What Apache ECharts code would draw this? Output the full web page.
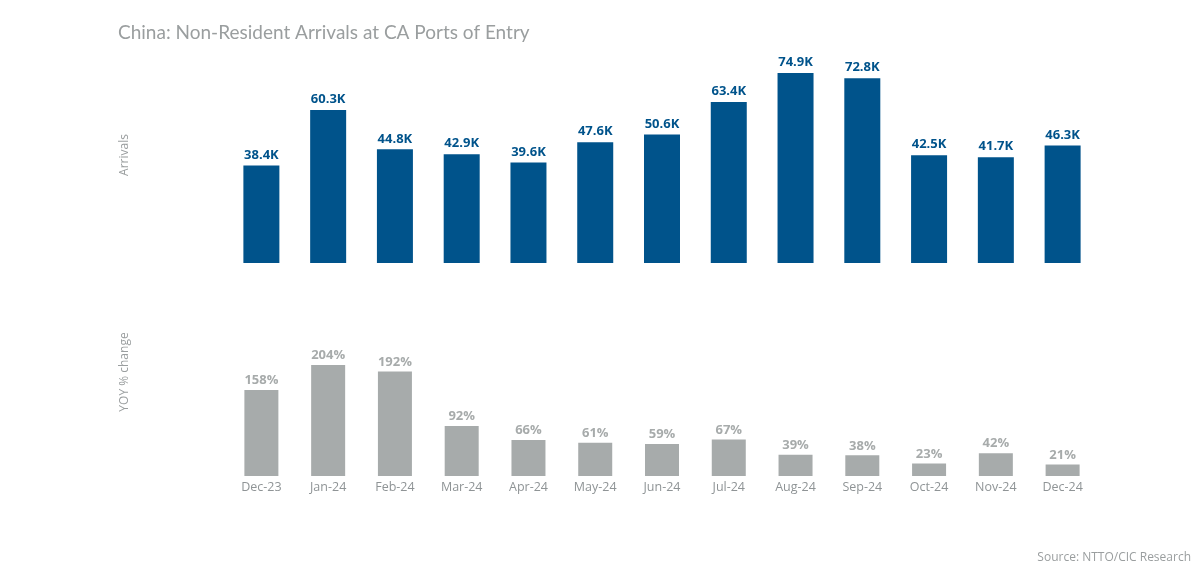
<!DOCTYPE html>
<html><head><meta charset="utf-8">
<script src="https://cdn.jsdelivr.net/npm/echarts@6/dist/echarts.min.js"></script>
<style>html,body{margin:0;padding:0;background:#fff}#c{width:1200px;height:575px}</style>
</head><body><div id="c"></div>
<script>
const categories=["Dec-23","Jan-24","Feb-24","Mar-24","Apr-24","May-24","Jun-24","Jul-24","Aug-24","Sep-24","Oct-24","Nov-24","Dec-24"];
const arrivals=[38.4,60.3,44.8,42.9,39.6,47.6,50.6,63.4,74.9,72.8,42.5,41.7,46.3];
const yoy=[158,204,192,92,66,61,59,67,39,38,23,42,21];
const FONT='"Open Sans","Noto Sans",sans-serif';
const chart=echarts.init(document.getElementById('c'),null,{renderer:'canvas'});
chart.setOption({
 animation:false,
 backgroundColor:'#fff',
 title:[{text:'China: Non-Resident Arrivals at CA Ports of Entry',left:113,top:18,textStyle:{color:'#9a9e9f',fontSize:19,fontWeight:'normal',fontFamily:'Lato'}},
  {text:'Source: NTTO/CIC Research',right:4,top:547,textStyle:{color:'#9a9e9f',fontSize:12,fontWeight:'normal',fontFamily:FONT}}],
 grid:[{left:228,width:868,top:60,height:203},{left:228,width:868,top:340,height:136}],
 xAxis:[{type:'category',gridIndex:0,data:categories,axisLine:{show:false},axisTick:{show:false},axisLabel:{show:false}},
  {type:'category',gridIndex:1,data:categories,axisLine:{show:false},axisTick:{show:false},axisLabel:{color:'#8f9496',fontSize:12.5,fontFamily:FONT,margin:5,interval:0}}],
 yAxis:[{type:'value',gridIndex:0,min:0,max:80,show:false,splitLine:{show:false}},
  {type:'value',gridIndex:1,min:0,max:250,show:false,splitLine:{show:false}}],
 graphic:[
  {type:'text',x:125,y:155,rotation:Math.PI/2,style:{text:'Arrivals',fill:'#9a9e9f',font:'12px '+FONT,align:'center',verticalAlign:'middle'}},
  {type:'text',x:125,y:372,rotation:Math.PI/2,style:{text:'YOY % change',fill:'#9a9e9f',font:'12px '+FONT,align:'center',verticalAlign:'middle'}}
 ],
 series:[
  {type:'bar',xAxisIndex:0,yAxisIndex:0,data:arrivals,barWidth:36,itemStyle:{color:'#00538b'},
   label:{show:true,position:'top',distance:4,color:'#00538b',fontSize:13,fontWeight:'bold',fontFamily:FONT,formatter:p=>p.value.toFixed(1)+'K'}},
  {type:'bar',xAxisIndex:1,yAxisIndex:1,data:yoy,barWidth:34,itemStyle:{color:'#a7abab'},
   label:{show:true,position:'top',distance:3,color:'#a7abab',fontSize:13,fontWeight:'bold',fontFamily:FONT,formatter:p=>p.value+'%'}}
 ]
});
</script></body></html>
